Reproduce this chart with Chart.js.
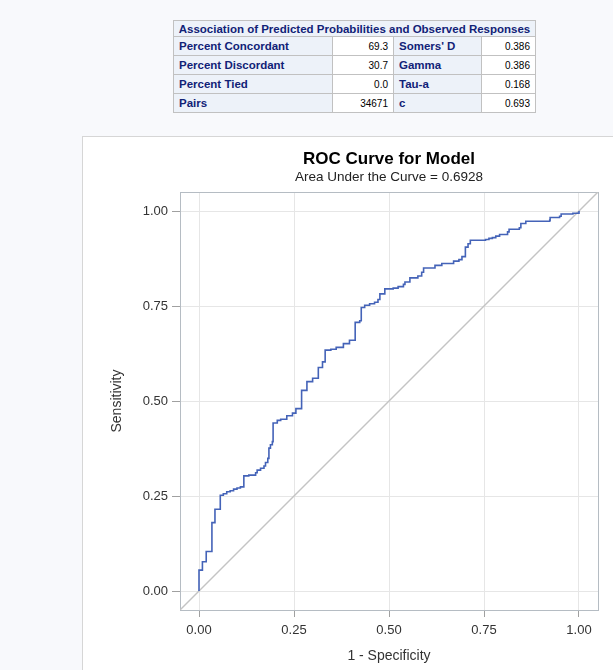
<!DOCTYPE html>
<html>
<head>
<meta charset="utf-8">
<script src="https://cdn.jsdelivr.net/npm/chart.js@4.4.1/dist/chart.umd.min.js"></script>
<style>
  html, body { margin: 0; padding: 0; }
  body {
    width: 613px; height: 670px; overflow: hidden; position: relative;
    background: #f8f9fc;
    font-family: "Liberation Sans", Arial, sans-serif;
  }
  #assoc {
    position: absolute; left: 173px; top: 20px; width: 362px;
    border-collapse: collapse; table-layout: fixed;
    border: 1px solid #c1c1c1;
  }
  #assoc th, #assoc td {
    border: 1px solid #c1c1c1; padding: 0 5px;
    white-space: nowrap; overflow: hidden; box-sizing: border-box;
  }
  #assoc th {
    background: #edf2f9; color: #112277; font-weight: bold;
    font-size: 11.5px; text-align: left; height: 19px;
  }
  #assoc th.cap { text-align: center; height: 16px; padding: 0 2px; }
  #assoc td {
    background: #ffffff; color: #000; font-size: 10px;
    text-align: right; height: 19px;
  }
  #panel {
    position: absolute; left: 82px; top: 136px; width: 620px; height: 620px;
    background: #ffffff; border: 1px solid #d6d6d6;
  }
  #roc { position: absolute; left: 0; top: 0; }
</style>
</head>
<body>
<table id="assoc">
  <colgroup>
    <col style="width:159px"><col style="width:61px"><col style="width:88px"><col style="width:54px">
  </colgroup>
  <tbody id="assocBody"></tbody>
</table>
<div id="panel"><canvas id="roc" width="530" height="533"></canvas></div>

<script>
// Association statistics table
const assocTitle = 'Association of Predicted Probabilities and Observed Responses';
const leftStats = ['Percent Concordant', 'Percent Discordant', 'Percent Tied', 'Pairs'];
const leftValues = ['69.3', '30.7', '0.0', '34671'];
const rightStats = ["Somers' D", 'Gamma', 'Tau-a', 'c'];
const rightValues = ['0.386', '0.386', '0.168', '0.693'];

// ROC curve: 1 - specificity and sensitivity at each step corner
const fpr = [0, 0, 0.009, 0.019, 0.034, 0.042, 0.056, 0.064, 0.073, 0.082, 0.091, 0.100, 0.109,
  0.118, 0.131, 0.149, 0.153, 0.162, 0.171, 0.175, 0.181, 0.184, 0.188, 0.193, 0.195,
  0.206, 0.215, 0.231, 0.246, 0.255, 0.270, 0.284, 0.299, 0.314, 0.325, 0.332, 0.347,
  0.361, 0.380, 0.396, 0.411, 0.423, 0.427, 0.436, 0.449, 0.462, 0.471, 0.476, 0.489,
  0.511, 0.524, 0.538, 0.542, 0.555, 0.576, 0.586, 0.591, 0.621, 0.639, 0.670, 0.684,
  0.692, 0.701, 0.708, 0.714, 0.754, 0.763, 0.772, 0.781, 0.791, 0.812, 0.816, 0.843,
  0.847, 0.860, 0.923, 0.924, 0.949, 0.953, 0.984, 1.000];
const tpr = [0, 0.055, 0.077, 0.104, 0.180, 0.215, 0.252, 0.256, 0.261, 0.264, 0.268, 0.271, 0.274,
  0.303, 0.305, 0.311, 0.318, 0.323, 0.329, 0.338, 0.349, 0.376, 0.385, 0.393, 0.442,
  0.449, 0.452, 0.461, 0.468, 0.480, 0.528, 0.551, 0.560, 0.588, 0.603, 0.634, 0.636,
  0.641, 0.651, 0.660, 0.707, 0.711, 0.746, 0.752, 0.756, 0.760, 0.767, 0.782, 0.795,
  0.797, 0.801, 0.807, 0.813, 0.824, 0.829, 0.839, 0.850, 0.857, 0.862, 0.868, 0.872,
  0.880, 0.905, 0.914, 0.923, 0.925, 0.928, 0.930, 0.934, 0.938, 0.945, 0.952, 0.956,
  0.967, 0.973, 0.976, 0.983, 0.986, 0.992, 0.994, 1.000];

// Chance diagonal across the full axis range
const diagX = [-0.05, 1.05];
const diagY = [-0.05, 1.05];

const axisMin = -0.05;
const axisMax = 1.05;
const tickValues = [0, 0.25, 0.5, 0.75, 1];
const chartTitle = 'ROC Curve for Model';
const chartSubtitle = 'Area Under the Curve = 0.6928';
const xTitle = '1 - Specificity';
const yTitle = 'Sensitivity';

// build the table rows
const body = document.getElementById('assocBody');
const capRow = document.createElement('tr');
const cap = document.createElement('th');
cap.colSpan = 4; cap.className = 'cap'; cap.textContent = assocTitle;
capRow.appendChild(cap); body.appendChild(capRow);
leftStats.forEach((name, i) => {
  const tr = document.createElement('tr');
  [[ 'th', name ], [ 'td', leftValues[i] ], [ 'th', rightStats[i] ], [ 'td', rightValues[i] ]].forEach(([tag, txt]) => {
    const c = document.createElement(tag); c.textContent = txt; tr.appendChild(c);
  });
  body.appendChild(tr);
});

// chart
const FAMILY = "'Liberation Sans', Arial, sans-serif";
const tickFont = { family: FAMILY, size: 13 };
const titleFont = { family: FAMILY, size: 14 };
const frameColor = '#b5bcc3';
const useFixedTicks = s => { s.ticks = tickValues.map(v => ({ value: v })); };
const fmt = v => Number(v).toFixed(2);

new Chart(document.getElementById('roc'), {
  type: 'line',
  data: {
    datasets: [
      {
        label: 'ROC',
        data: fpr.map((x, i) => ({ x: x, y: tpr[i] })),
        stepped: 'before',
        borderColor: '#4463b8',
        borderWidth: 1.6,
        pointRadius: 0,
        fill: false
      },
      {
        label: 'Chance',
        data: diagX.map((x, i) => ({ x: x, y: diagY[i] })),
        borderColor: '#c4c4c4',
        borderWidth: 1.4,
        pointRadius: 0,
        fill: false
      }
    ]
  },
  options: {
    responsive: false,
    animation: false,
    events: [],
    layout: { padding: { left: 0, right: 15, top: 0, bottom: 0 } },
    plugins: {
      legend: { display: false },
      tooltip: { enabled: false },
      title: {
        display: true, text: chartTitle, fullSize: false, color: '#000',
        font: { family: FAMILY, size: 17, weight: 'bold', lineHeight: 1.2 },
        padding: { top: 12, bottom: 0 }
      },
      subtitle: {
        display: true, text: chartSubtitle, fullSize: false, color: '#222',
        font: { family: FAMILY, size: 13.5, lineHeight: 1.2 },
        padding: { top: 0, bottom: 6.4 }
      }
    },
    scales: {
      x: {
        type: 'linear', position: 'bottom', min: axisMin, max: axisMax,
        afterBuildTicks: useFixedTicks,
        afterFit: s => { s.height = 60; },
        grid: { color: '#e6e6e6', tickColor: '#a0a0a0', tickLength: 7 },
        border: { color: frameColor, width: 1 },
        ticks: { color: '#333', font: tickFont, padding: 6, maxRotation: 0, callback: fmt },
        title: { display: true, text: xTitle, color: '#333', font: titleFont, padding: { top: 0, bottom: 5.6 } }
      },
      y: {
        type: 'linear', position: 'left', min: axisMin, max: axisMax,
        afterBuildTicks: useFixedTicks,
        afterFit: s => { s.width = 97; },
        grid: { color: '#e6e6e6', tickColor: '#a0a0a0', tickLength: 8 },
        border: { color: frameColor, width: 1 },
        ticks: { color: '#333', font: tickFont, padding: 4, callback: fmt },
        title: { display: true, text: yTitle, color: '#333', font: titleFont, padding: { top: 25.6, bottom: 0 } }
      },
      x2: {
        type: 'linear', position: 'top', min: axisMin, max: axisMax,
        afterFit: s => { s.height = 0; },
        grid: { display: false, drawTicks: false },
        border: { color: frameColor, width: 1 },
        ticks: { display: false }
      },
      y2: {
        type: 'linear', position: 'right', min: axisMin, max: axisMax,
        afterFit: s => { s.width = 0; },
        grid: { display: false, drawTicks: false },
        border: { color: frameColor, width: 1 },
        ticks: { display: false }
      }
    }
  }
});
</script>
</body>
</html>
